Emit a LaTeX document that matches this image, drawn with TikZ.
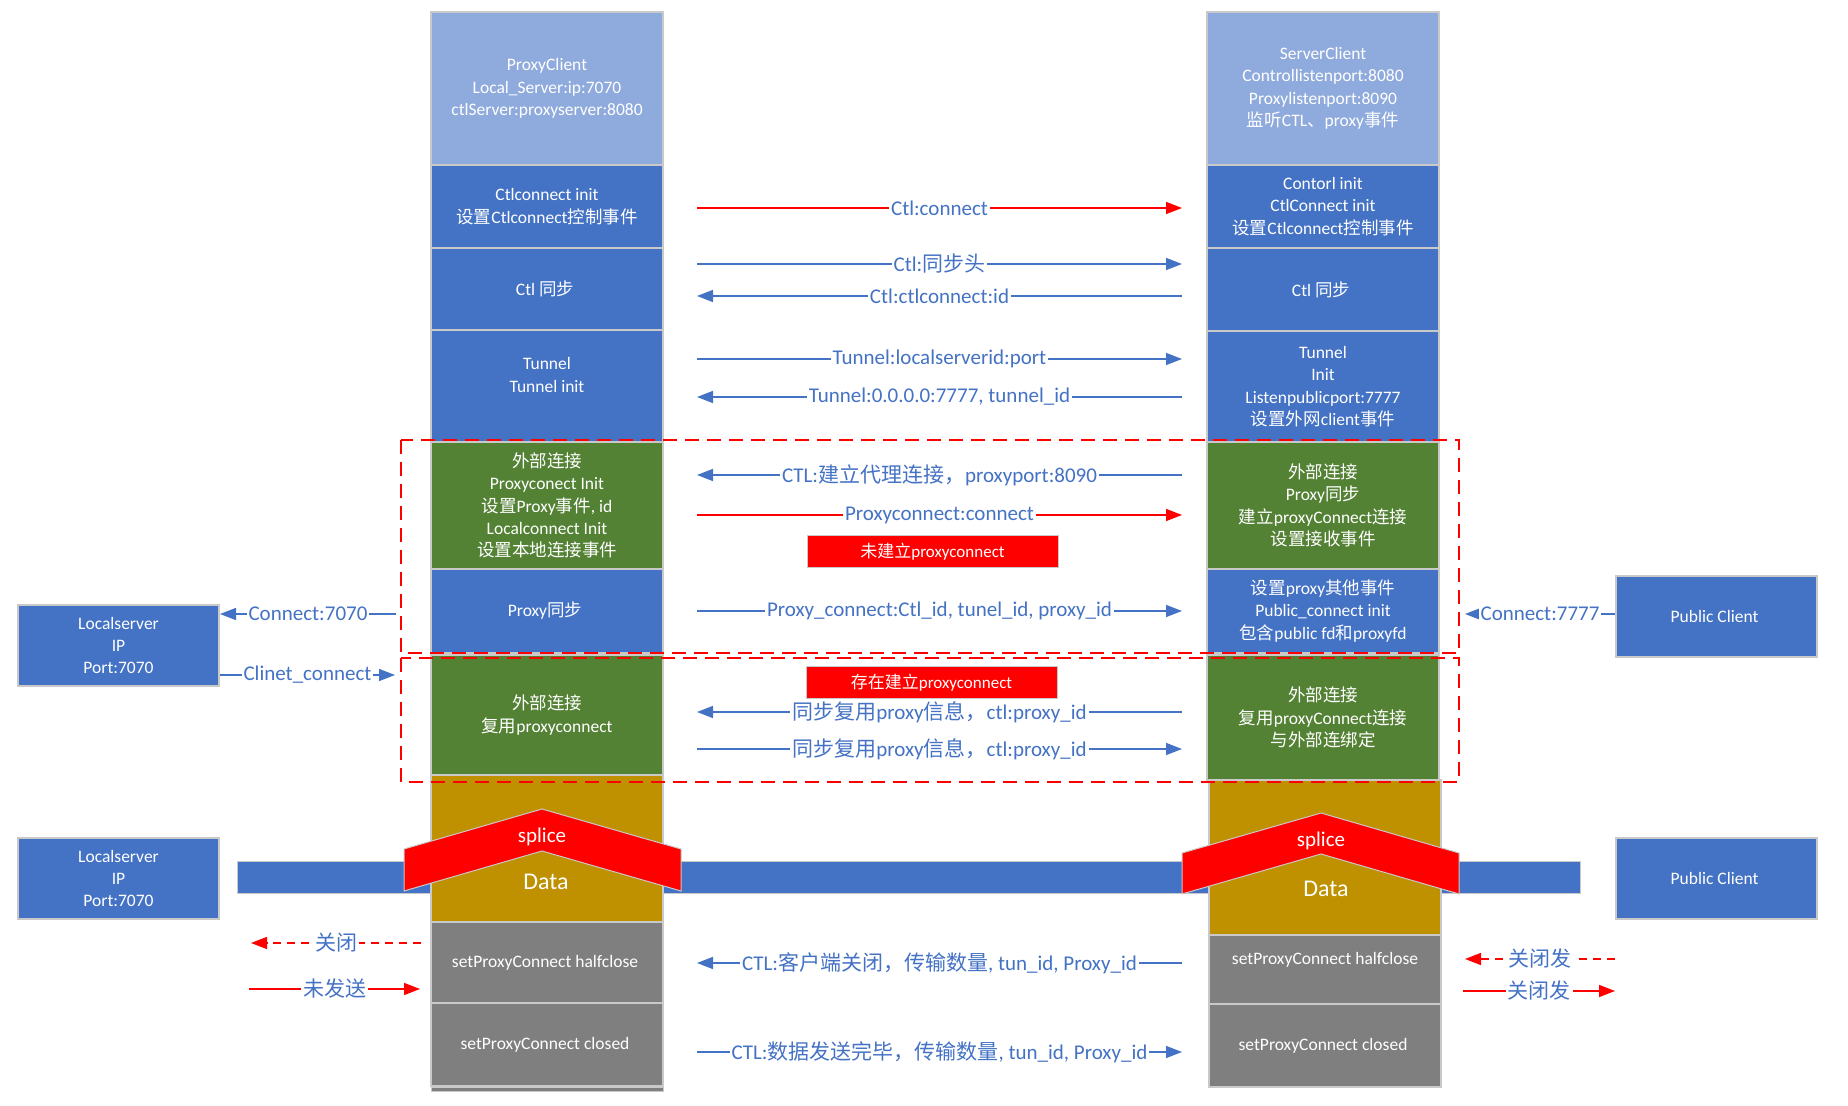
\documentclass[tikz,border=0pt]{standalone}
\usepackage{fontspec}
\usepackage{xcolor}
\setmainfont{Carlito}
\newfontfamily\zhfont{Noto Sans CJK SC}
\newcommand{\zh}[1]{{\zhfont #1}}
\usetikzlibrary{arrows.meta}

\definecolor{headblue}{HTML}{8FAADC}
\definecolor{boxblue}{HTML}{4472C4}
\definecolor{boxgreen}{HTML}{548235}
\definecolor{boxgold}{HTML}{BF9000}
\definecolor{boxgray}{HTML}{7F7F7F}
\definecolor{edge}{HTML}{C9C9C9}

\begin{document}
\begin{tikzpicture}[
    x=0.5pt,
    y=-0.5pt,
    cellbox/.style={
        draw=edge,
        line width=1pt,
        text=white,
        align=center,
        minimum width=116pt,
        inner sep=0pt,
        font=\fontsize{8.75}{11.2}\selectfont
    },
    sidebox/.style={
        cellbox,
        fill=boxblue,
        minimum width=100.5pt,
        minimum height=40.5pt
    },
    flagbox/.style={
        draw=edge,
        line width=0.5pt,
        fill=red,
        text=white,
        minimum width=125.5pt,
        minimum height=16pt,
        inner sep=0pt,
        font=\fontsize{8.5}{10}\selectfont
    },
    lbl/.style={
        fill=white,
        text=boxblue,
        inner sep=1pt,
        font=\fontsize{10.5}{12}\selectfont
    },
    arrowline/.style={
        line width=0.75pt,
        -{Triangle[length=8pt,width=6pt]}
    },
    bluearrow/.style={
        arrowline,
        draw=boxblue
    },
    redarrow/.style={
        arrowline,
        draw=red
    },
    reddash/.style={
        redarrow,
        dash pattern=on 4pt off 3pt
    },
    zonebox/.style={
        draw=red,
        line width=1pt,
        dash pattern=on 7pt off 4pt
    },
    splicearrow/.style={
        fill=red,
        draw=edge,
        line width=0.5pt
    },
    splicetext/.style={
        text=white,
        font=\fontsize{10.5}{12}\selectfont
    },
    datatext/.style={
        text=white,
        font=\fontsize{12}{14}\selectfont
    }
]

\useasboundingbox (0,0) rectangle (1848,1106);

% data channel behind the columns
\draw[draw=edge, fill=boxblue] (237,861) rectangle (1580,893);

% proxy client column
\node[cellbox, fill=headblue, minimum height=76.5pt] (pc) at (547,88.5)
{
    ProxyClient\\
    Local\_Server:ip:7070\\
    ctlServer:proxyserver:8080
};

\node[cellbox, fill=boxblue, minimum height=41.5pt] (pcctl) at (547,206.5)
{
    Ctlconnect init\\
    \zh{设置}Ctlconnect\zh{控制事件}
};

\node[cellbox, fill=boxblue, minimum height=41pt] (pcsync) at (547,289)
{
    Ctl \zh{同步}
};

\node[cellbox, fill=boxblue, minimum height=56pt] (pctun) at (547,386)
{
    Tunnel\\
    Tunnel init\\
    \mbox{}
};

\node[cellbox, fill=boxgreen, minimum height=63.5pt] (pcext) at (547,505.5)
{
    \zh{外部连接}\\
    Proxyconect Init\\
    \zh{设置}Proxy\zh{事件}, id\\
    Localconnect Init\\
    \zh{设置本地连接事件}
};

\node[cellbox, fill=boxblue, minimum height=42pt] (pcproxy) at (547,611)
{
    Proxy\zh{同步}
};

\node[cellbox, fill=boxgreen, minimum height=60pt] (pcreuse) at (547,715)
{
    \zh{外部连接}\\
    \zh{复用}proxyconnect
};

\node[cellbox, fill=boxgold, minimum height=73.5pt] (pcdata) at (547,848.5) {};

\node[cellbox, fill=boxgray, minimum height=40.5pt] (pchalf) at (547,962.5)
{
    setProxyConnect halfclose
};

\node[cellbox, fill=boxgray, minimum height=41.5pt] (pcclosed) at (547,1044.5)
{
    setProxyConnect closed
};

\draw[draw=edge, fill=boxgray] (431,1087) rectangle (663,1091);

% server client column
\node[cellbox, fill=headblue, minimum height=76.5pt] (sc) at (1323,88.5)
{
    ServerClient\\
    Controllistenport:8080\\
    Proxylistenport:8090\\
    \zh{监听}CTL\zh{、}proxy\zh{事件}
};

\node[cellbox, fill=boxblue, minimum height=41.5pt] (scctl) at (1323,206.5)
{
    Contorl init\\
    CtlConnect init\\
    \zh{设置}Ctlconnect\zh{控制事件}
};

\node[cellbox, fill=boxblue, minimum height=41.5pt] (scsync) at (1323,289.5)
{
    Ctl \zh{同步}
};

\node[cellbox, fill=boxblue, minimum height=55.5pt] (sctun) at (1323,386.5)
{
    Tunnel\\
    Init\\
    Listenpublicport:7777\\
    \zh{设置外网}client\zh{事件}
};

\node[cellbox, fill=boxgreen, minimum height=63.5pt] (scext) at (1323,505.5)
{
    \zh{外部连接}\\
    Proxy\zh{同步}\\
    \zh{建立}proxyConnect\zh{连接}\\
    \zh{设置接收事件}
};

\node[cellbox, fill=boxblue, minimum height=42pt] (scproxy) at (1323,611)
{
    \zh{设置}proxy\zh{其他事件}\\
    Public\_connect init\\
    \zh{包含}public fd\zh{和}proxyfd
};

\node[cellbox, fill=boxgreen, minimum height=62.5pt] (screuse) at (1323,717.5)
{
    \zh{外部连接}\\
    \zh{复用}proxyConnect\zh{连接}\\
    \zh{与外部连绑定}
};

\node[cellbox, fill=boxgold, minimum height=77.5pt] (scdata) at (1325,857.5) {};

\node[cellbox, fill=boxgray, minimum height=34.5pt] (schalf) at (1325,969.5)
{
    setProxyConnect halfclose\\
    \mbox{}
};

\node[cellbox, fill=boxgray, minimum height=41.5pt] (scclosed) at (1325,1045.5)
{
    setProxyConnect closed
};

% outside ends
\node[sidebox] (ls1) at (118.5,645.5)
{
    Localserver\\
    IP\\
    Port:7070
};

\node[sidebox] (ls2) at (118.5,878.5)
{
    Localserver\\
    IP\\
    Port:7070
};

\node[sidebox] (pub1) at (1716.5,616.5)
{
    Public Client
};

\node[sidebox] (pub2) at (1716.5,878.5)
{
    Public Client
};

% state flags
\node[flagbox] (noproxy) at (932.5,552)
{
    \zh{未建立}proxyconnect
};

\node[flagbox] (hasproxy) at (931.5,683)
{
    \zh{存在建立}proxyconnect
};

% splice chevrons
\draw[splicearrow] (404,849) -- (542,809) -- (681,849) -- (681,891)
    -- (542,851) -- (404,891) -- cycle;
\draw[splicearrow] (1182,853) -- (1321,813) -- (1459,853) -- (1459,894)
    -- (1321,854) -- (1182,894) -- cycle;

\node[splicetext] (pcsplice) at (542,837) {splice};
\node[datatext] (pcdatatxt) at (546,882) {Data};
\node[splicetext] (scsplice) at (1321,841) {splice};
\node[datatext] (scdatatxt) at (1326,889) {Data};

% message ends
\coordinate (ctlL) at (697,208);
\coordinate (ctlR) at (1182,208);
\coordinate (headL) at (697,264);
\coordinate (headR) at (1182,264);
\coordinate (idL) at (697,296);
\coordinate (idR) at (1182,296);
\coordinate (tunL) at (697,359);
\coordinate (tunR) at (1182,359);
\coordinate (tidL) at (697,397);
\coordinate (tidR) at (1182,397);
\coordinate (mkL) at (697,475);
\coordinate (mkR) at (1182,475);
\coordinate (pconL) at (697,515);
\coordinate (pconR) at (1182,515);
\coordinate (pidL) at (697,611);
\coordinate (pidR) at (1182,611);
\coordinate (backL) at (697,712);
\coordinate (backR) at (1182,712);
\coordinate (fwdL) at (697,749);
\coordinate (fwdR) at (1182,749);
\coordinate (halfL) at (697,963);
\coordinate (halfR) at (1182,963);
\coordinate (doneL) at (697,1052);
\coordinate (doneR) at (1182,1052);

\coordinate (c7070) at (396,614);
\coordinate (cli) at (395,675);
\coordinate (c7777) at (1465,614);
\coordinate (shutA) at (421,943);
\coordinate (shutB) at (251,943);
\coordinate (unsentA) at (249,989);
\coordinate (unsentB) at (420,989);
\coordinate (shutR) at (1465,959);
\coordinate (sendR) at (1463,991);

% messages
\draw[redarrow] (ctlL) -- node[lbl] {Ctl:connect} (ctlR);
\draw[bluearrow] (headL) -- node[lbl] {Ctl:\zh{同步头}} (headR);
\draw[bluearrow] (idR) -- node[lbl] {Ctl:ctlconnect:id} (idL);
\draw[bluearrow] (tunL) -- node[lbl] {Tunnel:localserverid:port} (tunR);
\draw[bluearrow] (tidR) -- node[lbl] {Tunnel:0.0.0.0:7777, tunnel\_id} (tidL);
\draw[bluearrow] (mkR) -- node[lbl] {CTL:\zh{建立代理连接，}proxyport:8090} (mkL);
\draw[redarrow] (pconL) -- node[lbl] {Proxyconnect:connect} (pconR);
\draw[bluearrow] (pidL) -- node[lbl] {Proxy\_connect:Ctl\_id, tunel\_id, proxy\_id} (pidR);
\draw[bluearrow] (backR) -- node[lbl] {\zh{同步复用}proxy\zh{信息，}ctl:proxy\_id} (backL);
\draw[bluearrow] (fwdL) -- node[lbl] {\zh{同步复用}proxy\zh{信息，}ctl:proxy\_id} (fwdR);
\draw[bluearrow] (halfR) -- node[lbl] {CTL:\zh{客户端关闭，传输数量}, tun\_id, Proxy\_id} (halfL);
\draw[bluearrow] (doneL) -- node[lbl] {CTL:\zh{数据发送完毕，传输数量}, tun\_id, Proxy\_id} (doneR);

% outside connections
\draw[bluearrow] (c7070) -- node[lbl] {Connect:7070} (c7070 -| ls1.east);
\draw[bluearrow] (cli -| ls1.east) -- node[lbl] {Clinet\_connect} (cli);
\draw[bluearrow] (c7777 -| pub1.west) -- node[lbl] {Connect:7777} (c7777);

\draw[reddash] (shutA) -- node[lbl] {\zh{关闭}} (shutB);
\draw[redarrow] (unsentA) -- node[lbl] {\zh{未发送}} (unsentB);
\draw[reddash] (shutR -| pub2.west) -- node[lbl] {\zh{关闭发}} (shutR);
\draw[redarrow] (sendR) -- node[lbl] {\zh{关闭发}} (sendR -| pub2.west);

% connection zones
\draw[zonebox] (401,440) rectangle (1459,653);
\draw[zonebox] (401,658) rectangle (1459,782);

\end{tikzpicture}
\end{document}
